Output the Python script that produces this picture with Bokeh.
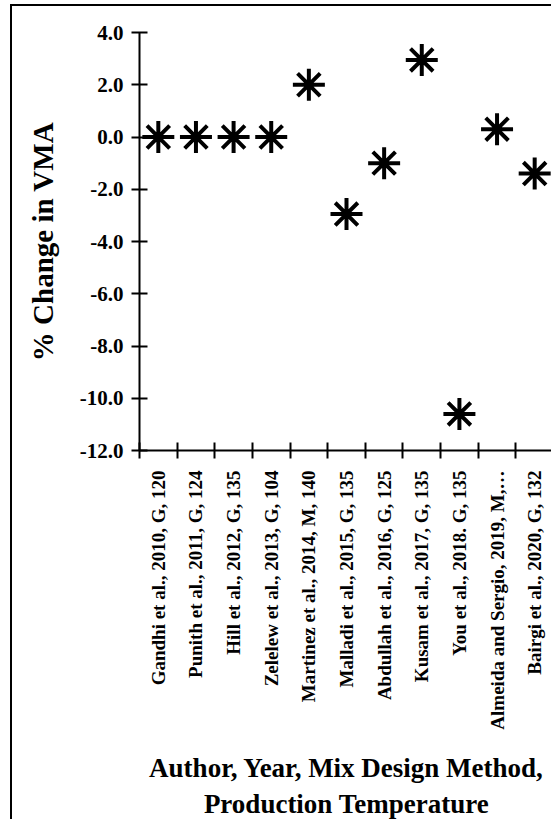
import math
from bokeh.plotting import figure
from bokeh.models import Range1d, FixedTicker, PrintfTickFormatter, ColumnDataSource
from bokeh.embed import file_html
from bokeh.resources import INLINE

categories = [
    "Gandhi et al., 2010, G, 120",
    "Punith et al., 2011, G, 124",
    "Hill et al., 2012, G, 135",
    "Zelelew et al., 2013, G, 104",
    "Martinez et al., 2014, M, 140",
    "Malladi et al., 2015, G, 135",
    "Abdullah et al., 2016, G, 125",
    "Kusam et al., 2017, G, 135",
    "You et al., 2018. G, 135",
    "Almeida and Sergio, 2019, M,…",
    "Bairgi et al., 2020, G, 132",
]
vma_change = [0.0, 0.0, 0.0, 0.0, 2.0, -2.95, -1.0, 2.95, -10.6, 0.3, -1.4]
y_ticks = [-12, -10, -8, -6, -4, -2, 0, 2, 4]

FONT = "Liberation Serif"

n = len(categories)
xpos = [i + 0.5 for i in range(n)]

p = figure(width=541, height=815, output_backend="svg", toolbar_location=None,
           x_range=Range1d(0, n), y_range=Range1d(-12, 4),
           min_border_left=127, min_border_right=0, min_border_top=26,
           min_border_bottom=360)
p.styles = {"border-left": "2px solid black", "border-top": "2px solid black",
            "box-sizing": "border-box", "margin-left": "10px", "margin-top": "4px"}
p.grid.visible = False
p.outline_line_color = None
p.background_fill_color = "white"
p.border_fill_color = "white"

src = ColumnDataSource(dict(x=xpos, y=vma_change))
p.scatter("x", "y", source=src, marker="asterisk", size=32, angle=math.pi / 2,
          line_color="black", line_width=4)

# y axis
ya = p.yaxis[0]
ya.ticker = FixedTicker(ticks=y_ticks)
ya.formatter = PrintfTickFormatter(format="%.1f")
ya.axis_line_width = 2
ya.axis_line_color = "black"
ya.major_tick_line_width = 2
ya.major_tick_line_color = "black"
ya.major_tick_in = 8
ya.major_tick_out = 8
ya.minor_tick_line_color = None
ya.major_label_text_font = FONT
ya.major_label_text_font_style = "bold"
ya.major_label_text_font_size = "21px"
ya.major_label_text_color = "black"
ya.major_label_standoff = 8
ya.axis_label = "% Change in VMA"
ya.axis_label_text_font = FONT
ya.axis_label_text_font_style = "bold"
ya.axis_label_text_font_size = "29px"
ya.axis_label_text_color = "black"
ya.axis_label_standoff = 18

# x axis
xa = p.xaxis[0]
xa.ticker = FixedTicker(ticks=xpos, minor_ticks=list(range(n + 1)))
xa.major_label_overrides = {x: c for x, c in zip(xpos, categories)}
xa.major_label_orientation = math.pi / 2
xa.axis_line_width = 2
xa.axis_line_color = "black"
xa.major_tick_line_color = None
xa.major_tick_in = 0
xa.major_tick_out = 0
xa.minor_tick_line_width = 2
xa.minor_tick_line_color = "black"
xa.minor_tick_in = 8
xa.minor_tick_out = 8
xa.major_label_text_font = FONT
xa.major_label_text_font_style = "bold"
xa.major_label_text_font_size = "19px"
xa.major_label_text_color = "black"
xa.major_label_standoff = 12
xa.axis_label = "Author, Year, Mix Design Method,\nProduction Temperature"
xa.axis_label_text_font = FONT
xa.axis_label_text_font_style = "bold"
xa.axis_label_text_font_size = "27px"
xa.axis_label_text_color = "black"
xa.axis_label_standoff = 20

open("out.html", "w").write(file_html(p, INLINE))
